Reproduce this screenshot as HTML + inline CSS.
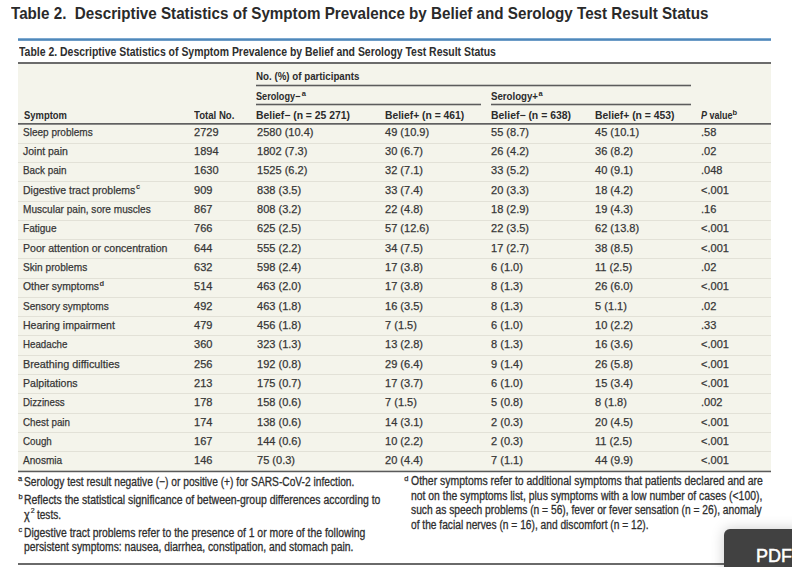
<!DOCTYPE html>
<html><head><meta charset="utf-8"><style>
html,body{margin:0;padding:0;background:#fff;width:792px;height:567px;overflow:hidden;position:relative;}
.t{position:absolute;white-space:nowrap;line-height:1;font-family:"Liberation Sans",sans-serif;transform-origin:0 0;}
.t sup{font-size:0.62em;vertical-align:0;position:relative;top:-0.45em;line-height:0;}
.r{position:absolute;}
</style></head><body>
<div class="t" style="left:11.40px;top:5.31px;font-size:17px;color:#2a2a2a;font-weight:bold;transform:scaleX(0.8933);">Table 2.&nbsp; Descriptive Statistics of Symptom Prevalence by Belief and Serology Test Result Status</div>
<div class="r" style="left:18px;top:38px;width:753px;height:1px;background:#7ea9d0;"></div>
<div class="r" style="left:18px;top:39px;width:753px;height:1px;background:#4f88ba;"></div>
<div class="r" style="left:18px;top:40px;width:753px;height:1px;background:#6d9cc7;"></div>
<div class="t" style="left:19.20px;top:45.79px;font-size:12.3px;color:#2e2e2e;font-weight:bold;transform:scaleX(0.8496);">Table 2. Descriptive Statistics of Symptom Prevalence by Belief and Serology Test Result Status</div>
<div class="r" style="left:18px;top:62px;width:753px;height:2px;background:#6b6b6b;"></div>
<div class="r" style="left:18px;top:64px;width:753px;height:407px;background:#f4f4eb;"></div>
<div class="t" style="left:256.40px;top:71.11px;font-size:10.5px;color:#2b2b2b;font-weight:bold;transform:scaleX(0.9281);">No. (%) of participants</div>
<div class="r" style="left:256px;top:84px;width:434.5px;height:1px;background:#c8c8c2;"></div>
<div class="r" style="left:256px;top:85px;width:434.5px;height:1px;background:#5c5c5c;"></div>
<div class="r" style="left:256px;top:86px;width:434.5px;height:1px;background:#c8c8c2;"></div>
<div class="t" style="left:256.40px;top:91.11px;font-size:10.5px;color:#2b2b2b;font-weight:bold;transform:scaleX(0.8695);">Serology−</div>
<div class="t" style="left:301.80px;top:89.65px;font-size:7.5px;color:#2b2b2b;font-weight:bold;">a</div>
<div class="r" style="left:256px;top:103px;width:224.5px;height:1px;background:#c8c8c2;"></div>
<div class="r" style="left:256px;top:104px;width:224.5px;height:1px;background:#5c5c5c;"></div>
<div class="r" style="left:256px;top:105px;width:224.5px;height:1px;background:#c8c8c2;"></div>
<div class="t" style="left:490.60px;top:91.11px;font-size:10.5px;color:#2b2b2b;font-weight:bold;transform:scaleX(0.9205);">Serology+</div>
<div class="t" style="left:538.60px;top:89.65px;font-size:7.5px;color:#2b2b2b;font-weight:bold;">a</div>
<div class="r" style="left:490.5px;top:103px;width:200px;height:1px;background:#c8c8c2;"></div>
<div class="r" style="left:490.5px;top:104px;width:200px;height:1px;background:#5c5c5c;"></div>
<div class="r" style="left:490.5px;top:105px;width:200px;height:1px;background:#c8c8c2;"></div>
<div class="t" style="left:23.60px;top:110.11px;font-size:10.5px;color:#2b2b2b;font-weight:bold;transform:scaleX(0.8968);">Symptom</div>
<div class="t" style="left:194.10px;top:110.11px;font-size:10.5px;color:#2b2b2b;font-weight:bold;transform:scaleX(0.9154);">Total No.</div>
<div class="t" style="left:256.40px;top:110.11px;font-size:10.5px;color:#2b2b2b;font-weight:bold;transform:scaleX(0.9881);">Belief− (n = 25 271)</div>
<div class="t" style="left:385.30px;top:110.11px;font-size:10.5px;color:#2b2b2b;font-weight:bold;transform:scaleX(0.9847);">Belief+ (n = 461)</div>
<div class="t" style="left:490.60px;top:110.11px;font-size:10.5px;color:#2b2b2b;font-weight:bold;transform:scaleX(0.9934);">Belief− (n = 638)</div>
<div class="t" style="left:594.80px;top:110.11px;font-size:10.5px;color:#2b2b2b;font-weight:bold;transform:scaleX(0.9871);">Belief+ (n = 453)</div>
<div class="t" style="left:700.5px;top:110.11px;font-size:10.5px;color:#2b2b2b;font-weight:bold;transform:scaleX(0.8556)"><i>P</i> value</div>
<div class="t" style="left:732.60px;top:109.15px;font-size:7.5px;color:#2b2b2b;font-weight:bold;">b</div>
<div class="r" style="left:18px;top:123px;width:753px;height:1px;background:#606060;"></div>
<div class="r" style="left:18px;top:124px;width:753px;height:1px;background:#8a8a88;"></div>
<div class="t" style="left:23.30px;top:126.77px;font-size:11.5px;color:#363636;transform:scaleX(0.8723);-webkit-text-stroke:0.25px #363636;">Sleep problems</div>
<div class="t" style="left:193.90px;top:126.77px;font-size:11.5px;color:#363636;transform:scaleX(0.9600);-webkit-text-stroke:0.25px #363636;">2729</div>
<div class="t" style="left:256.60px;top:126.77px;font-size:11.5px;color:#363636;transform:scaleX(0.9600);-webkit-text-stroke:0.25px #363636;">2580 (10.4)</div>
<div class="t" style="left:384.80px;top:126.77px;font-size:11.5px;color:#363636;transform:scaleX(0.9600);-webkit-text-stroke:0.25px #363636;">49 (10.9)</div>
<div class="t" style="left:490.60px;top:126.77px;font-size:11.5px;color:#363636;transform:scaleX(0.9600);-webkit-text-stroke:0.25px #363636;">55 (8.7)</div>
<div class="t" style="left:594.80px;top:126.77px;font-size:11.5px;color:#363636;transform:scaleX(0.9600);-webkit-text-stroke:0.25px #363636;">45 (10.1)</div>
<div class="t" style="left:700.80px;top:126.77px;font-size:11.5px;color:#363636;transform:scaleX(0.9600);-webkit-text-stroke:0.25px #363636;">.58</div>
<div class="t" style="left:23.30px;top:146.09px;font-size:11.5px;color:#363636;transform:scaleX(0.9100);-webkit-text-stroke:0.25px #363636;">Joint pain</div>
<div class="t" style="left:193.90px;top:146.09px;font-size:11.5px;color:#363636;transform:scaleX(0.9600);-webkit-text-stroke:0.25px #363636;">1894</div>
<div class="t" style="left:256.60px;top:146.09px;font-size:11.5px;color:#363636;transform:scaleX(0.9600);-webkit-text-stroke:0.25px #363636;">1802 (7.3)</div>
<div class="t" style="left:384.80px;top:146.09px;font-size:11.5px;color:#363636;transform:scaleX(0.9600);-webkit-text-stroke:0.25px #363636;">30 (6.7)</div>
<div class="t" style="left:490.60px;top:146.09px;font-size:11.5px;color:#363636;transform:scaleX(0.9600);-webkit-text-stroke:0.25px #363636;">26 (4.2)</div>
<div class="t" style="left:594.80px;top:146.09px;font-size:11.5px;color:#363636;transform:scaleX(0.9600);-webkit-text-stroke:0.25px #363636;">36 (8.2)</div>
<div class="t" style="left:700.80px;top:146.09px;font-size:11.5px;color:#363636;transform:scaleX(0.9600);-webkit-text-stroke:0.25px #363636;">.02</div>
<div class="r" style="left:18px;top:143px;width:753px;height:1px;background:#e2e1d7;"></div>
<div class="t" style="left:23.30px;top:165.41px;font-size:11.5px;color:#363636;transform:scaleX(0.8593);-webkit-text-stroke:0.25px #363636;">Back pain</div>
<div class="t" style="left:193.90px;top:165.41px;font-size:11.5px;color:#363636;transform:scaleX(0.9600);-webkit-text-stroke:0.25px #363636;">1630</div>
<div class="t" style="left:256.60px;top:165.41px;font-size:11.5px;color:#363636;transform:scaleX(0.9600);-webkit-text-stroke:0.25px #363636;">1525 (6.2)</div>
<div class="t" style="left:384.80px;top:165.41px;font-size:11.5px;color:#363636;transform:scaleX(0.9600);-webkit-text-stroke:0.25px #363636;">32 (7.1)</div>
<div class="t" style="left:490.60px;top:165.41px;font-size:11.5px;color:#363636;transform:scaleX(0.9600);-webkit-text-stroke:0.25px #363636;">33 (5.2)</div>
<div class="t" style="left:594.80px;top:165.41px;font-size:11.5px;color:#363636;transform:scaleX(0.9600);-webkit-text-stroke:0.25px #363636;">40 (9.1)</div>
<div class="t" style="left:700.80px;top:165.41px;font-size:11.5px;color:#363636;transform:scaleX(0.9600);-webkit-text-stroke:0.25px #363636;">.048</div>
<div class="r" style="left:18px;top:162px;width:753px;height:1px;background:#e2e1d7;"></div>
<div class="t" style="left:23.30px;top:184.73px;font-size:11.5px;color:#363636;transform:scaleX(0.9104);-webkit-text-stroke:0.25px #363636;">Digestive tract problems</div>
<div class="t" style="left:193.90px;top:184.73px;font-size:11.5px;color:#363636;transform:scaleX(0.9600);-webkit-text-stroke:0.25px #363636;">909</div>
<div class="t" style="left:256.60px;top:184.73px;font-size:11.5px;color:#363636;transform:scaleX(0.9600);-webkit-text-stroke:0.25px #363636;">838 (3.5)</div>
<div class="t" style="left:384.80px;top:184.73px;font-size:11.5px;color:#363636;transform:scaleX(0.9600);-webkit-text-stroke:0.25px #363636;">33 (7.4)</div>
<div class="t" style="left:490.60px;top:184.73px;font-size:11.5px;color:#363636;transform:scaleX(0.9600);-webkit-text-stroke:0.25px #363636;">20 (3.3)</div>
<div class="t" style="left:594.80px;top:184.73px;font-size:11.5px;color:#363636;transform:scaleX(0.9600);-webkit-text-stroke:0.25px #363636;">18 (4.2)</div>
<div class="t" style="left:700.80px;top:184.73px;font-size:11.5px;color:#363636;transform:scaleX(0.9600);-webkit-text-stroke:0.25px #363636;">&lt;.001</div>
<div class="r" style="left:18px;top:181px;width:753px;height:1px;background:#e2e1d7;"></div>
<div class="t" style="left:23.30px;top:204.05px;font-size:11.5px;color:#363636;transform:scaleX(0.8764);-webkit-text-stroke:0.25px #363636;">Muscular pain, sore muscles</div>
<div class="t" style="left:193.90px;top:204.05px;font-size:11.5px;color:#363636;transform:scaleX(0.9600);-webkit-text-stroke:0.25px #363636;">867</div>
<div class="t" style="left:256.60px;top:204.05px;font-size:11.5px;color:#363636;transform:scaleX(0.9600);-webkit-text-stroke:0.25px #363636;">808 (3.2)</div>
<div class="t" style="left:384.80px;top:204.05px;font-size:11.5px;color:#363636;transform:scaleX(0.9600);-webkit-text-stroke:0.25px #363636;">22 (4.8)</div>
<div class="t" style="left:490.60px;top:204.05px;font-size:11.5px;color:#363636;transform:scaleX(0.9600);-webkit-text-stroke:0.25px #363636;">18 (2.9)</div>
<div class="t" style="left:594.80px;top:204.05px;font-size:11.5px;color:#363636;transform:scaleX(0.9600);-webkit-text-stroke:0.25px #363636;">19 (4.3)</div>
<div class="t" style="left:700.80px;top:204.05px;font-size:11.5px;color:#363636;transform:scaleX(0.9600);-webkit-text-stroke:0.25px #363636;">.16</div>
<div class="r" style="left:18px;top:201px;width:753px;height:1px;background:#e2e1d7;"></div>
<div class="t" style="left:23.30px;top:223.37px;font-size:11.5px;color:#363636;transform:scaleX(0.8735);-webkit-text-stroke:0.25px #363636;">Fatigue</div>
<div class="t" style="left:193.90px;top:223.37px;font-size:11.5px;color:#363636;transform:scaleX(0.9600);-webkit-text-stroke:0.25px #363636;">766</div>
<div class="t" style="left:256.60px;top:223.37px;font-size:11.5px;color:#363636;transform:scaleX(0.9600);-webkit-text-stroke:0.25px #363636;">625 (2.5)</div>
<div class="t" style="left:384.80px;top:223.37px;font-size:11.5px;color:#363636;transform:scaleX(0.9600);-webkit-text-stroke:0.25px #363636;">57 (12.6)</div>
<div class="t" style="left:490.60px;top:223.37px;font-size:11.5px;color:#363636;transform:scaleX(0.9600);-webkit-text-stroke:0.25px #363636;">22 (3.5)</div>
<div class="t" style="left:594.80px;top:223.37px;font-size:11.5px;color:#363636;transform:scaleX(0.9600);-webkit-text-stroke:0.25px #363636;">62 (13.8)</div>
<div class="t" style="left:700.80px;top:223.37px;font-size:11.5px;color:#363636;transform:scaleX(0.9600);-webkit-text-stroke:0.25px #363636;">&lt;.001</div>
<div class="r" style="left:18px;top:220px;width:753px;height:1px;background:#e2e1d7;"></div>
<div class="t" style="left:23.30px;top:242.69px;font-size:11.5px;color:#363636;transform:scaleX(0.9182);-webkit-text-stroke:0.25px #363636;">Poor attention or concentration</div>
<div class="t" style="left:193.90px;top:242.69px;font-size:11.5px;color:#363636;transform:scaleX(0.9600);-webkit-text-stroke:0.25px #363636;">644</div>
<div class="t" style="left:256.60px;top:242.69px;font-size:11.5px;color:#363636;transform:scaleX(0.9600);-webkit-text-stroke:0.25px #363636;">555 (2.2)</div>
<div class="t" style="left:384.80px;top:242.69px;font-size:11.5px;color:#363636;transform:scaleX(0.9600);-webkit-text-stroke:0.25px #363636;">34 (7.5)</div>
<div class="t" style="left:490.60px;top:242.69px;font-size:11.5px;color:#363636;transform:scaleX(0.9600);-webkit-text-stroke:0.25px #363636;">17 (2.7)</div>
<div class="t" style="left:594.80px;top:242.69px;font-size:11.5px;color:#363636;transform:scaleX(0.9600);-webkit-text-stroke:0.25px #363636;">38 (8.5)</div>
<div class="t" style="left:700.80px;top:242.69px;font-size:11.5px;color:#363636;transform:scaleX(0.9600);-webkit-text-stroke:0.25px #363636;">&lt;.001</div>
<div class="r" style="left:18px;top:239px;width:753px;height:1px;background:#e2e1d7;"></div>
<div class="t" style="left:23.30px;top:262.01px;font-size:11.5px;color:#363636;transform:scaleX(0.8811);-webkit-text-stroke:0.25px #363636;">Skin problems</div>
<div class="t" style="left:193.90px;top:262.01px;font-size:11.5px;color:#363636;transform:scaleX(0.9600);-webkit-text-stroke:0.25px #363636;">632</div>
<div class="t" style="left:256.60px;top:262.01px;font-size:11.5px;color:#363636;transform:scaleX(0.9600);-webkit-text-stroke:0.25px #363636;">598 (2.4)</div>
<div class="t" style="left:384.80px;top:262.01px;font-size:11.5px;color:#363636;transform:scaleX(0.9600);-webkit-text-stroke:0.25px #363636;">17 (3.8)</div>
<div class="t" style="left:490.60px;top:262.01px;font-size:11.5px;color:#363636;transform:scaleX(0.9600);-webkit-text-stroke:0.25px #363636;">6 (1.0)</div>
<div class="t" style="left:594.80px;top:262.01px;font-size:11.5px;color:#363636;transform:scaleX(0.9600);-webkit-text-stroke:0.25px #363636;">11 (2.5)</div>
<div class="t" style="left:700.80px;top:262.01px;font-size:11.5px;color:#363636;transform:scaleX(0.9600);-webkit-text-stroke:0.25px #363636;">.02</div>
<div class="r" style="left:18px;top:258px;width:753px;height:1px;background:#e2e1d7;"></div>
<div class="t" style="left:23.30px;top:281.33px;font-size:11.5px;color:#363636;transform:scaleX(0.9010);-webkit-text-stroke:0.25px #363636;">Other symptoms</div>
<div class="t" style="left:193.90px;top:281.33px;font-size:11.5px;color:#363636;transform:scaleX(0.9600);-webkit-text-stroke:0.25px #363636;">514</div>
<div class="t" style="left:256.60px;top:281.33px;font-size:11.5px;color:#363636;transform:scaleX(0.9600);-webkit-text-stroke:0.25px #363636;">463 (2.0)</div>
<div class="t" style="left:384.80px;top:281.33px;font-size:11.5px;color:#363636;transform:scaleX(0.9600);-webkit-text-stroke:0.25px #363636;">17 (3.8)</div>
<div class="t" style="left:490.60px;top:281.33px;font-size:11.5px;color:#363636;transform:scaleX(0.9600);-webkit-text-stroke:0.25px #363636;">8 (1.3)</div>
<div class="t" style="left:594.80px;top:281.33px;font-size:11.5px;color:#363636;transform:scaleX(0.9600);-webkit-text-stroke:0.25px #363636;">26 (6.0)</div>
<div class="t" style="left:700.80px;top:281.33px;font-size:11.5px;color:#363636;transform:scaleX(0.9600);-webkit-text-stroke:0.25px #363636;">&lt;.001</div>
<div class="r" style="left:18px;top:278px;width:753px;height:1px;background:#e2e1d7;"></div>
<div class="t" style="left:23.30px;top:300.65px;font-size:11.5px;color:#363636;transform:scaleX(0.8765);-webkit-text-stroke:0.25px #363636;">Sensory symptoms</div>
<div class="t" style="left:193.90px;top:300.65px;font-size:11.5px;color:#363636;transform:scaleX(0.9600);-webkit-text-stroke:0.25px #363636;">492</div>
<div class="t" style="left:256.60px;top:300.65px;font-size:11.5px;color:#363636;transform:scaleX(0.9600);-webkit-text-stroke:0.25px #363636;">463 (1.8)</div>
<div class="t" style="left:384.80px;top:300.65px;font-size:11.5px;color:#363636;transform:scaleX(0.9600);-webkit-text-stroke:0.25px #363636;">16 (3.5)</div>
<div class="t" style="left:490.60px;top:300.65px;font-size:11.5px;color:#363636;transform:scaleX(0.9600);-webkit-text-stroke:0.25px #363636;">8 (1.3)</div>
<div class="t" style="left:594.80px;top:300.65px;font-size:11.5px;color:#363636;transform:scaleX(0.9600);-webkit-text-stroke:0.25px #363636;">5 (1.1)</div>
<div class="t" style="left:700.80px;top:300.65px;font-size:11.5px;color:#363636;transform:scaleX(0.9600);-webkit-text-stroke:0.25px #363636;">.02</div>
<div class="r" style="left:18px;top:297px;width:753px;height:1px;background:#e2e1d7;"></div>
<div class="t" style="left:23.30px;top:319.97px;font-size:11.5px;color:#363636;transform:scaleX(0.9158);-webkit-text-stroke:0.25px #363636;">Hearing impairment</div>
<div class="t" style="left:193.90px;top:319.97px;font-size:11.5px;color:#363636;transform:scaleX(0.9600);-webkit-text-stroke:0.25px #363636;">479</div>
<div class="t" style="left:256.60px;top:319.97px;font-size:11.5px;color:#363636;transform:scaleX(0.9600);-webkit-text-stroke:0.25px #363636;">456 (1.8)</div>
<div class="t" style="left:384.80px;top:319.97px;font-size:11.5px;color:#363636;transform:scaleX(0.9600);-webkit-text-stroke:0.25px #363636;">7 (1.5)</div>
<div class="t" style="left:490.60px;top:319.97px;font-size:11.5px;color:#363636;transform:scaleX(0.9600);-webkit-text-stroke:0.25px #363636;">6 (1.0)</div>
<div class="t" style="left:594.80px;top:319.97px;font-size:11.5px;color:#363636;transform:scaleX(0.9600);-webkit-text-stroke:0.25px #363636;">10 (2.2)</div>
<div class="t" style="left:700.80px;top:319.97px;font-size:11.5px;color:#363636;transform:scaleX(0.9600);-webkit-text-stroke:0.25px #363636;">.33</div>
<div class="r" style="left:18px;top:316px;width:753px;height:1px;background:#e2e1d7;"></div>
<div class="t" style="left:23.30px;top:339.29px;font-size:11.5px;color:#363636;transform:scaleX(0.8469);-webkit-text-stroke:0.25px #363636;">Headache</div>
<div class="t" style="left:193.90px;top:339.29px;font-size:11.5px;color:#363636;transform:scaleX(0.9600);-webkit-text-stroke:0.25px #363636;">360</div>
<div class="t" style="left:256.60px;top:339.29px;font-size:11.5px;color:#363636;transform:scaleX(0.9600);-webkit-text-stroke:0.25px #363636;">323 (1.3)</div>
<div class="t" style="left:384.80px;top:339.29px;font-size:11.5px;color:#363636;transform:scaleX(0.9600);-webkit-text-stroke:0.25px #363636;">13 (2.8)</div>
<div class="t" style="left:490.60px;top:339.29px;font-size:11.5px;color:#363636;transform:scaleX(0.9600);-webkit-text-stroke:0.25px #363636;">8 (1.3)</div>
<div class="t" style="left:594.80px;top:339.29px;font-size:11.5px;color:#363636;transform:scaleX(0.9600);-webkit-text-stroke:0.25px #363636;">16 (3.6)</div>
<div class="t" style="left:700.80px;top:339.29px;font-size:11.5px;color:#363636;transform:scaleX(0.9600);-webkit-text-stroke:0.25px #363636;">&lt;.001</div>
<div class="r" style="left:18px;top:335px;width:753px;height:1px;background:#e2e1d7;"></div>
<div class="t" style="left:23.30px;top:358.61px;font-size:11.5px;color:#363636;transform:scaleX(0.9405);-webkit-text-stroke:0.25px #363636;">Breathing difficulties</div>
<div class="t" style="left:193.90px;top:358.61px;font-size:11.5px;color:#363636;transform:scaleX(0.9600);-webkit-text-stroke:0.25px #363636;">256</div>
<div class="t" style="left:256.60px;top:358.61px;font-size:11.5px;color:#363636;transform:scaleX(0.9600);-webkit-text-stroke:0.25px #363636;">192 (0.8)</div>
<div class="t" style="left:384.80px;top:358.61px;font-size:11.5px;color:#363636;transform:scaleX(0.9600);-webkit-text-stroke:0.25px #363636;">29 (6.4)</div>
<div class="t" style="left:490.60px;top:358.61px;font-size:11.5px;color:#363636;transform:scaleX(0.9600);-webkit-text-stroke:0.25px #363636;">9 (1.4)</div>
<div class="t" style="left:594.80px;top:358.61px;font-size:11.5px;color:#363636;transform:scaleX(0.9600);-webkit-text-stroke:0.25px #363636;">26 (5.8)</div>
<div class="t" style="left:700.80px;top:358.61px;font-size:11.5px;color:#363636;transform:scaleX(0.9600);-webkit-text-stroke:0.25px #363636;">&lt;.001</div>
<div class="r" style="left:18px;top:355px;width:753px;height:1px;background:#e2e1d7;"></div>
<div class="t" style="left:23.30px;top:377.93px;font-size:11.5px;color:#363636;transform:scaleX(0.9183);-webkit-text-stroke:0.25px #363636;">Palpitations</div>
<div class="t" style="left:193.90px;top:377.93px;font-size:11.5px;color:#363636;transform:scaleX(0.9600);-webkit-text-stroke:0.25px #363636;">213</div>
<div class="t" style="left:256.60px;top:377.93px;font-size:11.5px;color:#363636;transform:scaleX(0.9600);-webkit-text-stroke:0.25px #363636;">175 (0.7)</div>
<div class="t" style="left:384.80px;top:377.93px;font-size:11.5px;color:#363636;transform:scaleX(0.9600);-webkit-text-stroke:0.25px #363636;">17 (3.7)</div>
<div class="t" style="left:490.60px;top:377.93px;font-size:11.5px;color:#363636;transform:scaleX(0.9600);-webkit-text-stroke:0.25px #363636;">6 (1.0)</div>
<div class="t" style="left:594.80px;top:377.93px;font-size:11.5px;color:#363636;transform:scaleX(0.9600);-webkit-text-stroke:0.25px #363636;">15 (3.4)</div>
<div class="t" style="left:700.80px;top:377.93px;font-size:11.5px;color:#363636;transform:scaleX(0.9600);-webkit-text-stroke:0.25px #363636;">&lt;.001</div>
<div class="r" style="left:18px;top:374px;width:753px;height:1px;background:#e2e1d7;"></div>
<div class="t" style="left:23.30px;top:397.25px;font-size:11.5px;color:#363636;transform:scaleX(0.8474);-webkit-text-stroke:0.25px #363636;">Dizziness</div>
<div class="t" style="left:193.90px;top:397.25px;font-size:11.5px;color:#363636;transform:scaleX(0.9600);-webkit-text-stroke:0.25px #363636;">178</div>
<div class="t" style="left:256.60px;top:397.25px;font-size:11.5px;color:#363636;transform:scaleX(0.9600);-webkit-text-stroke:0.25px #363636;">158 (0.6)</div>
<div class="t" style="left:384.80px;top:397.25px;font-size:11.5px;color:#363636;transform:scaleX(0.9600);-webkit-text-stroke:0.25px #363636;">7 (1.5)</div>
<div class="t" style="left:490.60px;top:397.25px;font-size:11.5px;color:#363636;transform:scaleX(0.9600);-webkit-text-stroke:0.25px #363636;">5 (0.8)</div>
<div class="t" style="left:594.80px;top:397.25px;font-size:11.5px;color:#363636;transform:scaleX(0.9600);-webkit-text-stroke:0.25px #363636;">8 (1.8)</div>
<div class="t" style="left:700.80px;top:397.25px;font-size:11.5px;color:#363636;transform:scaleX(0.9600);-webkit-text-stroke:0.25px #363636;">.002</div>
<div class="r" style="left:18px;top:393px;width:753px;height:1px;background:#e2e1d7;"></div>
<div class="t" style="left:23.30px;top:416.57px;font-size:11.5px;color:#363636;transform:scaleX(0.8548);-webkit-text-stroke:0.25px #363636;">Chest pain</div>
<div class="t" style="left:193.90px;top:416.57px;font-size:11.5px;color:#363636;transform:scaleX(0.9600);-webkit-text-stroke:0.25px #363636;">174</div>
<div class="t" style="left:256.60px;top:416.57px;font-size:11.5px;color:#363636;transform:scaleX(0.9600);-webkit-text-stroke:0.25px #363636;">138 (0.6)</div>
<div class="t" style="left:384.80px;top:416.57px;font-size:11.5px;color:#363636;transform:scaleX(0.9600);-webkit-text-stroke:0.25px #363636;">14 (3.1)</div>
<div class="t" style="left:490.60px;top:416.57px;font-size:11.5px;color:#363636;transform:scaleX(0.9600);-webkit-text-stroke:0.25px #363636;">2 (0.3)</div>
<div class="t" style="left:594.80px;top:416.57px;font-size:11.5px;color:#363636;transform:scaleX(0.9600);-webkit-text-stroke:0.25px #363636;">20 (4.5)</div>
<div class="t" style="left:700.80px;top:416.57px;font-size:11.5px;color:#363636;transform:scaleX(0.9600);-webkit-text-stroke:0.25px #363636;">&lt;.001</div>
<div class="r" style="left:18px;top:413px;width:753px;height:1px;background:#e2e1d7;"></div>
<div class="t" style="left:23.30px;top:435.89px;font-size:11.5px;color:#363636;transform:scaleX(0.8498);-webkit-text-stroke:0.25px #363636;">Cough</div>
<div class="t" style="left:193.90px;top:435.89px;font-size:11.5px;color:#363636;transform:scaleX(0.9600);-webkit-text-stroke:0.25px #363636;">167</div>
<div class="t" style="left:256.60px;top:435.89px;font-size:11.5px;color:#363636;transform:scaleX(0.9600);-webkit-text-stroke:0.25px #363636;">144 (0.6)</div>
<div class="t" style="left:384.80px;top:435.89px;font-size:11.5px;color:#363636;transform:scaleX(0.9600);-webkit-text-stroke:0.25px #363636;">10 (2.2)</div>
<div class="t" style="left:490.60px;top:435.89px;font-size:11.5px;color:#363636;transform:scaleX(0.9600);-webkit-text-stroke:0.25px #363636;">2 (0.3)</div>
<div class="t" style="left:594.80px;top:435.89px;font-size:11.5px;color:#363636;transform:scaleX(0.9600);-webkit-text-stroke:0.25px #363636;">11 (2.5)</div>
<div class="t" style="left:700.80px;top:435.89px;font-size:11.5px;color:#363636;transform:scaleX(0.9600);-webkit-text-stroke:0.25px #363636;">&lt;.001</div>
<div class="r" style="left:18px;top:432px;width:753px;height:1px;background:#e2e1d7;"></div>
<div class="t" style="left:23.30px;top:455.21px;font-size:11.5px;color:#363636;transform:scaleX(0.8736);-webkit-text-stroke:0.25px #363636;">Anosmia</div>
<div class="t" style="left:193.90px;top:455.21px;font-size:11.5px;color:#363636;transform:scaleX(0.9600);-webkit-text-stroke:0.25px #363636;">146</div>
<div class="t" style="left:256.60px;top:455.21px;font-size:11.5px;color:#363636;transform:scaleX(0.9600);-webkit-text-stroke:0.25px #363636;">75 (0.3)</div>
<div class="t" style="left:384.80px;top:455.21px;font-size:11.5px;color:#363636;transform:scaleX(0.9600);-webkit-text-stroke:0.25px #363636;">20 (4.4)</div>
<div class="t" style="left:490.60px;top:455.21px;font-size:11.5px;color:#363636;transform:scaleX(0.9600);-webkit-text-stroke:0.25px #363636;">7 (1.1)</div>
<div class="t" style="left:594.80px;top:455.21px;font-size:11.5px;color:#363636;transform:scaleX(0.9600);-webkit-text-stroke:0.25px #363636;">44 (9.9)</div>
<div class="t" style="left:700.80px;top:455.21px;font-size:11.5px;color:#363636;transform:scaleX(0.9600);-webkit-text-stroke:0.25px #363636;">&lt;.001</div>
<div class="r" style="left:18px;top:451px;width:753px;height:1px;background:#e2e1d7;"></div>
<div class="t" style="left:136.00px;top:183.41px;font-size:7.5px;color:#363636;font-weight:bold;">c</div>
<div class="t" style="left:99.60px;top:280.01px;font-size:7.5px;color:#363636;font-weight:bold;">d</div>
<div class="r" style="left:18px;top:470px;width:753px;height:1px;background:#c4c4be;"></div>
<div class="r" style="left:18px;top:471px;width:753px;height:1px;background:#5a5a5a;"></div>
<div class="r" style="left:18px;top:472px;width:753px;height:1px;background:#d8d8d8;"></div>
<div class="t" style="left:23.90px;top:476.02px;font-size:12.5px;color:#2e2e2e;transform:scaleX(0.8171);-webkit-text-stroke:0.3px #2e2e2e;">Serology test result negative (−) or positive (+) for SARS-CoV-2 infection.</div>
<div class="t" style="left:23.90px;top:494.02px;font-size:12.5px;color:#2e2e2e;transform:scaleX(0.8359);-webkit-text-stroke:0.3px #2e2e2e;">Reflects the statistical significance of between-group differences according to</div>
<div class="t" style="left:23.90px;top:508.52px;font-size:12.5px;color:#2e2e2e;transform:scaleX(0.8686);-webkit-text-stroke:0.3px #2e2e2e;">χ</div>
<div class="t" style="left:37.40px;top:508.52px;font-size:12.5px;color:#2e2e2e;transform:scaleX(0.8033);-webkit-text-stroke:0.3px #2e2e2e;">tests.</div>
<div class="t" style="left:30.80px;top:506.87px;font-size:7px;color:#2e2e2e;-webkit-text-stroke:0.2px #2e2e2e;">2</div>
<div class="t" style="left:23.90px;top:526.72px;font-size:12.5px;color:#2e2e2e;transform:scaleX(0.8314);-webkit-text-stroke:0.3px #2e2e2e;">Digestive tract problems refer to the presence of 1 or more of the following</div>
<div class="t" style="left:23.90px;top:540.62px;font-size:12.5px;color:#2e2e2e;transform:scaleX(0.8274);-webkit-text-stroke:0.3px #2e2e2e;">persistent symptoms: nausea, diarrhea, constipation, and stomach pain.</div>
<div class="t" style="left:410.70px;top:475.42px;font-size:12.5px;color:#2e2e2e;transform:scaleX(0.8358);-webkit-text-stroke:0.3px #2e2e2e;">Other symptoms refer to additional symptoms that patients declared and are</div>
<div class="t" style="left:410.70px;top:489.52px;font-size:12.5px;color:#2e2e2e;transform:scaleX(0.8310);-webkit-text-stroke:0.3px #2e2e2e;">not on the symptoms list, plus symptoms with a low number of cases (&lt;100),</div>
<div class="t" style="left:410.70px;top:504.02px;font-size:12.5px;color:#2e2e2e;transform:scaleX(0.8205);-webkit-text-stroke:0.3px #2e2e2e;">such as speech problems (n = 56), fever or fever sensation (n = 26), anomaly</div>
<div class="t" style="left:410.70px;top:518.62px;font-size:12.5px;color:#2e2e2e;transform:scaleX(0.8161);-webkit-text-stroke:0.3px #2e2e2e;">of the facial nerves (n = 16), and discomfort (n = 12).</div>
<div class="t" style="left:18.10px;top:474.65px;font-size:7.5px;color:#2e2e2e;-webkit-text-stroke:0.25px #2e2e2e;">a</div>
<div class="t" style="left:18.50px;top:493.15px;font-size:7.5px;color:#2e2e2e;-webkit-text-stroke:0.25px #2e2e2e;">b</div>
<div class="t" style="left:18.40px;top:525.65px;font-size:7.5px;color:#2e2e2e;-webkit-text-stroke:0.25px #2e2e2e;">c</div>
<div class="t" style="left:404.30px;top:474.65px;font-size:7.5px;color:#2e2e2e;-webkit-text-stroke:0.25px #2e2e2e;">d</div>
<div class="r" style="left:18px;top:563px;width:753px;height:2px;background:#6a6a6a;"></div>
<div class="r" style="left:724px;top:529px;width:80px;height:50px;background:#414141;border-radius:6px 0 0 0;box-shadow:0 0 14px rgba(0,0,0,0.2);"></div>
<div class="t" style="left:756.00px;top:546.76px;font-size:18px;color:#fff;-webkit-text-stroke:0.5px #fff;">PDF</div>
</body></html>
